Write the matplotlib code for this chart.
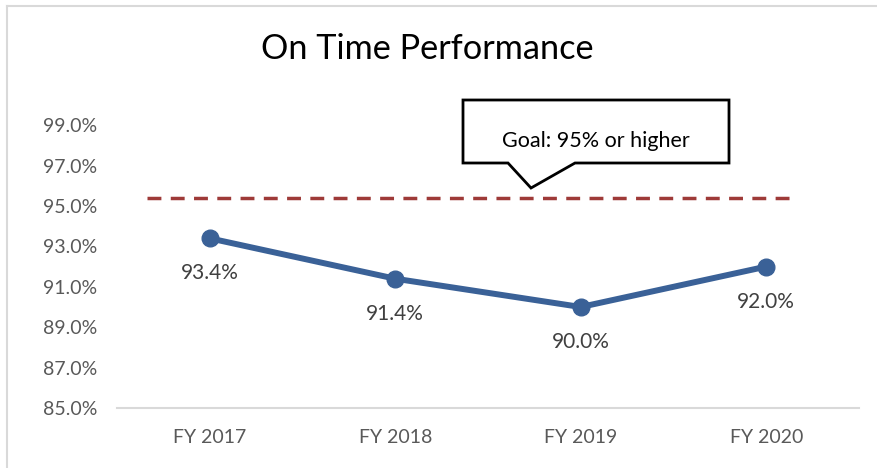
import matplotlib
matplotlib.use("Agg")
import matplotlib.pyplot as plt
from matplotlib.patches import Polygon
from matplotlib.lines import Line2D
from matplotlib.ticker import FuncFormatter

plt.rcParams['font.family'] = ['Lato', 'DejaVu Sans']

categories = ["FY 2017", "FY 2018", "FY 2019", "FY 2020"]
on_time = [93.4, 91.4, 90.0, 92.0]
goal = 95.4
y_ticks = [85, 87, 89, 91, 93, 95, 97, 99]
title = "On Time Performance"
goal_text = "Goal: 95% or higher"

W, H = 878, 468
fig = plt.figure(figsize=(W / 100, H / 100), dpi=100)

def fx(x):
    return x / W

def fy(y):
    return 1 - y / H

ax = fig.add_axes([fx(117), fy(408), fx(859) - fx(117), fy(105) - fy(408)])

x = list(range(len(categories)))
line_color = "#3A6197"
ax.plot(x, on_time, color=line_color, lw=4.3, marker="o", ms=12,
        solid_capstyle="round", zorder=3)
for xi, v in zip(x, on_time):
    ax.annotate(f"{v:.1f}%", (xi, v), xytext=(0, -35), textcoords="offset pixels",
                ha="center", va="center", fontsize=15, color="#404040")

ax.axhline(goal, xmin=30 / 742, xmax=673 / 742, color="#9E3A38", lw=2.5,
           dashes=(4.0, 2.7), zorder=2)

ax.set_xlim(-0.5, len(categories) - 0.5)
ax.set_ylim(85, 100)
ax.set_xticks(x)
ax.set_xticklabels(categories)
ax.set_yticks(y_ticks)
ax.yaxis.set_major_formatter(FuncFormatter(lambda v, p: f"{v:.1f}%"))
ax.tick_params(axis="both", length=0, labelsize=14, labelcolor="#595959")
ax.tick_params(axis="y", pad=14)
ax.tick_params(axis="x", pad=15)
for s in ["left", "right", "top"]:
    ax.spines[s].set_visible(False)
ax.spines["bottom"].set_color("#D9D9D9")
ax.spines["bottom"].set_linewidth(1.5)

# chart frame (left and top edges visible)
fig.lines.append(Line2D([fx(7), fx(7)], [0, fy(6)], transform=fig.transFigure,
                        color="#D9D9D9", lw=1.5))
fig.lines.append(Line2D([fx(7), 1.0], [fy(6), fy(6)], transform=fig.transFigure,
                        color="#D9D9D9", lw=1.5))

fig.text(fx(427), fy(49), title, ha="center", va="center", fontsize=24.7, color="#000000")

# callout
pts = [(463, 100), (729, 100), (729, 163), (575, 163), (531, 188), (508, 163), (463, 163)]
fig.patches.append(Polygon([(fx(px), fy(py)) for px, py in pts], closed=True,
                           transform=fig.transFigure, facecolor="white",
                           edgecolor="black", lw=2, zorder=5))
fig.text(fx(596), fy(141), goal_text, ha="center", va="center", fontsize=15.5,
         color="#000000", zorder=6)

fig.savefig("out.png", dpi=100)
